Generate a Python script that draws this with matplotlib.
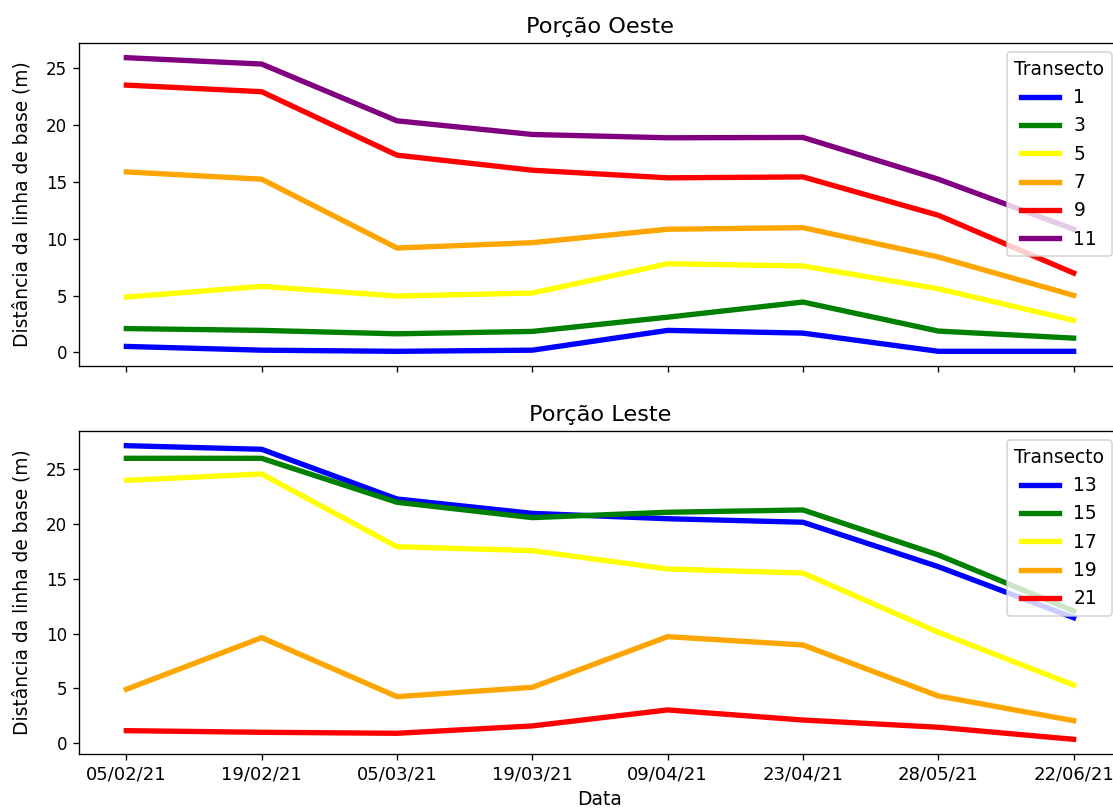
"""Distância da linha de base por transecto, porções oeste e leste."""

from matplotlib import pyplot
import numpy

datas = ['05/02/21', '19/02/21', '05/03/21', '19/03/21',
         '09/04/21', '23/04/21', '28/05/21', '22/06/21']

# Porção Oeste
oeste_transectos = ['1', '3', '5', '7', '9', '11']
oeste_t1 = [0.53, 0.2, 0.1, 0.2, 1.94, 1.7, 0.1, 0.1]
oeste_t3 = [2.1, 1.94, 1.64, 1.85, 3.1, 4.43, 1.88, 1.26]
oeste_t5 = [4.87, 5.81, 4.96, 5.22, 7.8, 7.6, 5.6, 2.82]
oeste_t7 = [15.87, 15.23, 9.18, 9.65, 10.83, 10.97, 8.39, 5.02]
oeste_t9 = [23.5, 22.92, 17.34, 16.02, 15.35, 15.43, 12.06, 6.98]
oeste_t11 = [25.91, 25.35, 20.36, 19.16, 18.87, 18.9, 15.23, 10.83]

# Porção Leste
leste_transectos = ['13', '15', '17', '19', '21']
leste_t13 = [27.13, 26.8, 22.27, 20.96, 20.47, 20.15, 16.1, 11.45]
leste_t15 = [25.98, 25.98, 21.97, 20.57, 21.06, 21.27, 17.17, 12.06]
leste_t17 = [23.97, 24.55, 17.92, 17.56, 15.89, 15.52, 10.12, 5.31]
leste_t19 = [4.92, 9.63, 4.25, 5.1, 9.72, 8.96, 4.31, 2.06]
leste_t21 = [1.15, 1.0, 0.91, 1.58, 3.04, 2.12, 1.46, 0.36]

cores = ['blue', 'green', 'yellow', 'orange', 'red', 'purple']

oeste = [oeste_t1, oeste_t3, oeste_t5, oeste_t7, oeste_t9, oeste_t11]
leste = [leste_t13, leste_t15, leste_t17, leste_t19, leste_t21]

x = numpy.arange(len(datas))

pyplot.rc('font', size=11.2)
pyplot.rc('xtick', labelsize=10.8)
pyplot.rc('ytick', labelsize=10)

fig = pyplot.figure(figsize=(1113 / 120, 812 / 120), dpi=120)
ax1 = fig.add_axes([79 / 1113, 446 / 812, 1042 / 1113, 323 / 812])
ax2 = fig.add_axes([79 / 1113, 58 / 812, 1042 / 1113, 323 / 812], sharex=ax1)

for ax, titulo, transectos, series in [
        (ax1, 'Porção Oeste', oeste_transectos, oeste),
        (ax2, 'Porção Leste', leste_transectos, leste)]:
    for nome, valores, cor in zip(transectos, series, cores):
        ax.plot(x, valores, color=cor, linewidth=3.2, label=nome)
    ax.set_title(titulo, fontsize=13.4)
    ax.set_ylabel('Distância da linha de base (m)', labelpad=9)
    ax.legend(title='Transecto', loc='upper right')

ax2.set_xticks(x)
ax2.set_xticklabels(datas)
ax1.tick_params(labelbottom=False)
ax2.set_xlabel('Data')

fig.savefig('out.png', dpi=120)
